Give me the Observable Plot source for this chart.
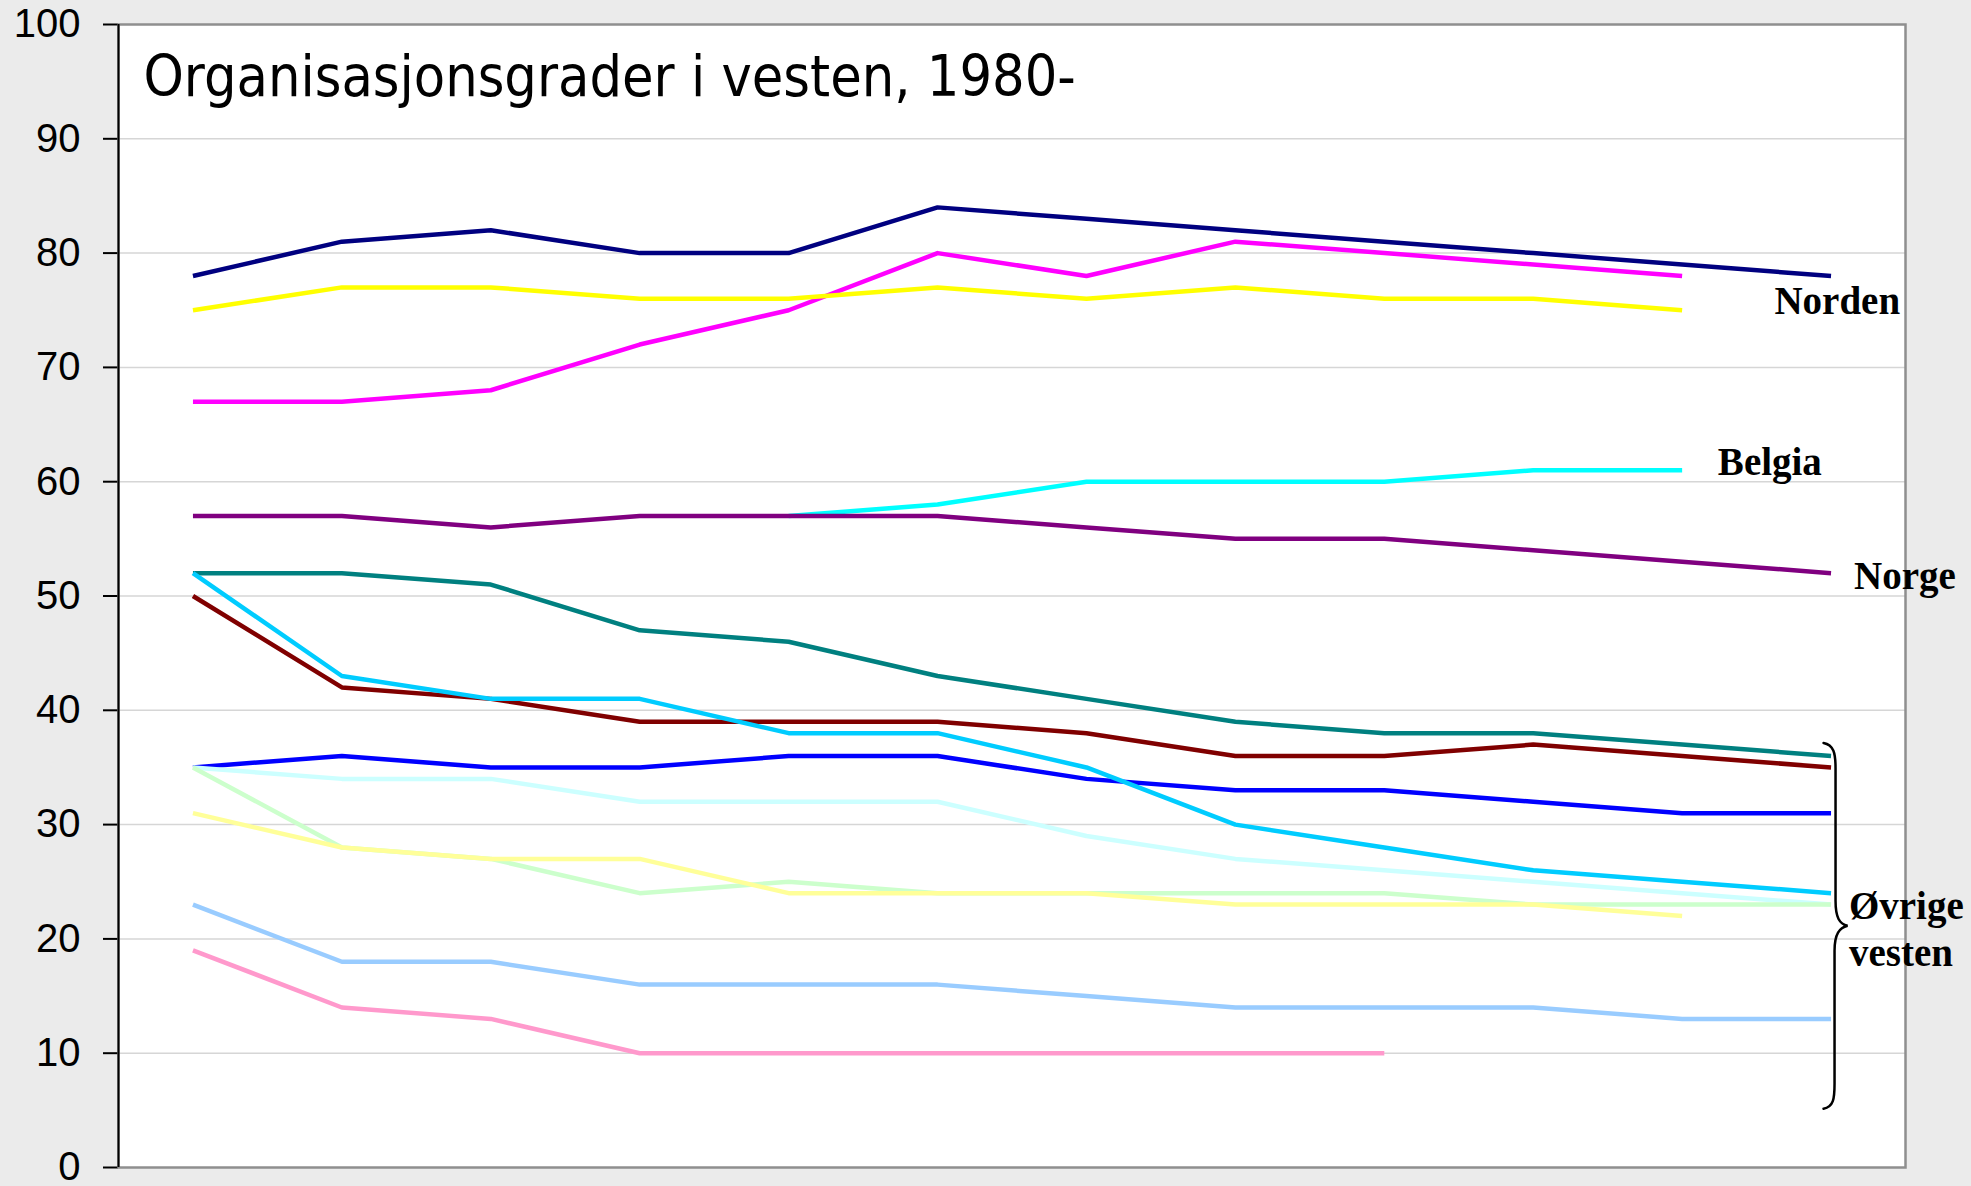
<!DOCTYPE html>
<html>
<head>
<meta charset="utf-8">
<script src="https://cdn.jsdelivr.net/npm/d3@7"></script>
<script src="https://cdn.jsdelivr.net/npm/@observablehq/plot@0.6"></script>
<style>
  html, body { margin: 0; padding: 0; background: #ebebeb; }
  #chart svg { display: block; }
  #chart [aria-label^="y-axis"] path, #chart [aria-label^="y-axis"] line { stroke-width: 2; }
</style>
</head>
<body>
<div id="chart"></div>
<script>
// ---- data ----
const years = [1980, 1982, 1984, 1986, 1988, 1990, 1992, 1994, 1996, 1998, 2000, 2002];
const yTicks = [0, 10, 20, 30, 40, 50, 60, 70, 80, 90, 100];

const navy        = [78, 81, 82, 80, 80, 84, 83, 82, 81, 80, 79, 78];
const magenta     = [67, 67, 68, 72, 75, 80, 78, 81, 80, 79, 78];
const yellow      = [75, 77, 77, 76, 76, 77, 76, 77, 76, 76, 75];
const belgia      = [null, null, null, null, 57, 58, 60, 60, 60, 61, 61];
const norge       = [57, 57, 56, 57, 57, 57, 56, 55, 55, 54, 53, 52];
const darkRed     = [50, 42, 41, 39, 39, 39, 38, 36, 36, 37, 36, 35];
const teal        = [52, 52, 51, 47, 46, 43, 41, 39, 38, 38, 37, 36];
const blue        = [35, 36, 35, 35, 36, 36, 34, 33, 33, 32, 31, 31];
const skyBlue     = [52, 43, 41, 41, 38, 38, 35, 30, 28, 26, 25, 24];
const lightTurq   = [35, 34, 34, 32, 32, 32, 29, 27, 26, 25, 24, 23];
const lightGreen  = [35, 28, 27, 24, 25, 24, 24, 24, 24, 23, 23, 23];
const lightYellow = [31, 28, 27, 27, 24, 24, 24, 23, 23, 23, 22];
const paleBlue    = [23, 18, 18, 16, 16, 16, 15, 14, 14, 14, 13, 13];
const rose        = [19, 14, 13, 10, 10, 10, 10, 10, 10];

const seriesValues = [navy, magenta, yellow, belgia, norge, darkRed, teal, blue,
                      skyBlue, lightTurq, lightGreen, lightYellow, paleBlue, rose];
const seriesColors = ["#000080", "#FF00FF", "#FFFF00", "#00FFFF", "#800080", "#800000", "#008080", "#0000FF",
                      "#00CCFF", "#CCFFFF", "#CCFFCC", "#FFFF99", "#99CCFF", "#FF99CC"];

const title = "Organisasjonsgrader i vesten, 1980-";
const labelTexts  = ["Norden", "Belgia", "Norge", "Øvrige\nvesten"];
const labelYears  = [2001.24, 2000.48, 2002.31, 2002.24];
const labelValues = [74.7, 60.6, 50.65, 17.6];
const brace = {year: 2002, top: 37.1, mid: 21.1, bottom: 5.1};

// ---- build ----
const labels = labelTexts.map((t, i) => ({text: t, year: labelYears[i], value: labelValues[i]}));

const lineMarks = seriesValues.map((vals, si) => {
  const rows = vals.map((v, i) => ({year: years[i], value: v})).filter(d => d.value != null);
  return Plot.line(rows, {
    x: "year", y: "value",
    stroke: seriesColors[si], strokeWidth: 4.5,
    strokeLinejoin: "round", strokeLinecap: "butt"
  });
});

const chart = Plot.plot({
  width: 1971,
  height: 1186,
  marginLeft: 118,
  marginRight: 66,
  marginTop: 24,
  marginBottom: 19,
  style: {
    background: "#ebebeb",
    fontFamily: "'Liberation Sans', Arial, sans-serif",
    fontSize: "40px",
    color: "black"
  },
  x: {domain: [1979, 2003], axis: null},
  y: {domain: [0, 100], ticks: 10, tickSize: 15, tickPadding: 23, label: null},
  marks: [
    Plot.frame({fill: "white", stroke: null}),
    Plot.ruleY(yTicks.filter(t => t > 0 && t < 100), {stroke: "#d6d6d6", strokeWidth: 1.5}),
    Plot.frame({stroke: "#8f8f8f", strokeWidth: 2.5, fill: null}),
    ...lineMarks,
    Plot.ruleX([1979], {stroke: "black", strokeWidth: 2}),
    Plot.text([title], {
      frameAnchor: "top-left", dx: 25, dy: 31,
      textAnchor: "start", lineAnchor: "top",
      fontSize: 57, fontFamily: "'DejaVu Sans Condensed', 'DejaVu Sans', sans-serif",
      fill: "black"
    }),
    Plot.text(labels, {
      x: "year", y: "value", text: "text",
      textAnchor: "start", lineAnchor: "bottom", lineHeight: 1.22,
      fontSize: 39, fontWeight: "bold",
      fontFamily: "'Liberation Serif', 'Times New Roman', serif",
      fill: "black"
    })
  ]
});

document.getElementById("chart").appendChild(chart);

// curly brace drawn through the chart's own scales
const sx = chart.scale("x"), sy = chart.scale("y");
const fx = sx.apply ? sx.apply : d3.scaleLinear(sx.domain, sx.range);
const fy = sy.apply ? sy.apply : d3.scaleLinear(sy.domain, sy.range);
const x0 = fx(brace.year), yT = fy(brace.top), yM = fy(brace.mid), yB = fy(brace.bottom);
const p = d3.path();
p.moveTo(x0 - 7, yT);
p.bezierCurveTo(x0 + 3, yT + 2, x0 + 5, yT + 10, x0 + 5, yT + 25);
p.lineTo(x0 + 5, yM - 25);
p.bezierCurveTo(x0 + 5, yM - 8, x0 + 9, yM - 2, x0 + 17, yM);
p.bezierCurveTo(x0 + 9, yM + 2, x0 + 4, yM + 8, x0 + 4, yM + 25);
p.lineTo(x0 + 4, yB - 25);
p.bezierCurveTo(x0 + 4, yB - 10, x0 + 3, yB - 2, x0 - 7, yB);
d3.select(chart).append("path")
  .attr("d", p.toString())
  .attr("fill", "none")
  .attr("stroke", "black")
  .attr("stroke-width", 2.5)
  .attr("stroke-linecap", "round");
</script>
</body>
</html>
